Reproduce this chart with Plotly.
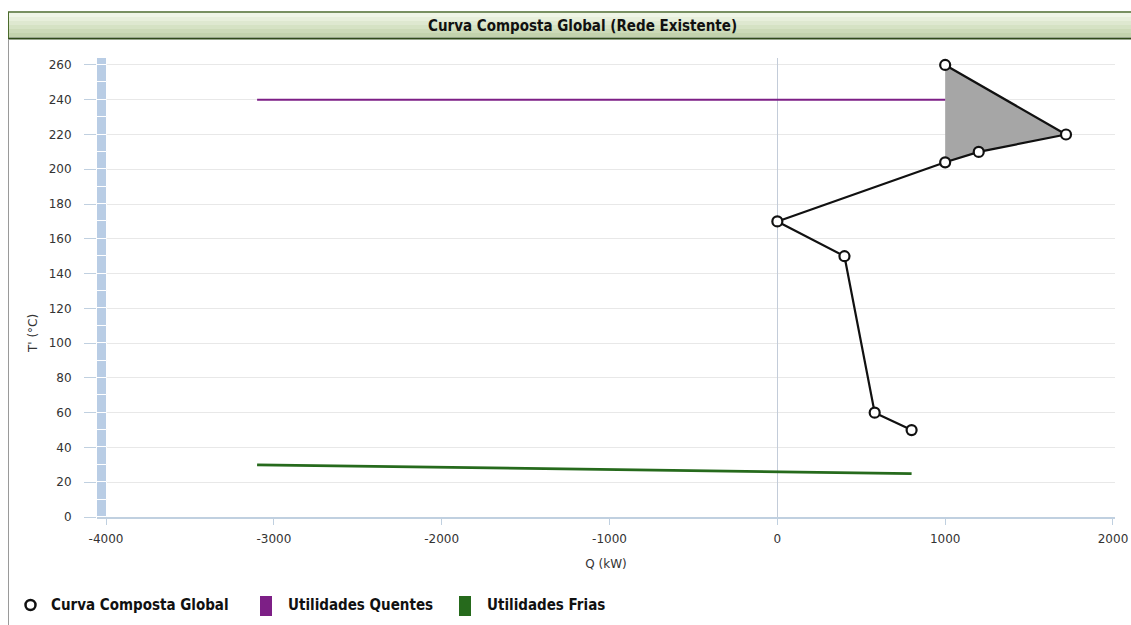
import plotly.graph_objects as go

# Grand composite curve (Q in kW, shifted temperature T' in °C)
gcc_q = [1000, 1720, 1200, 1000, 0, 400, 580, 800]
gcc_t = [260, 220, 210, 204, 170, 150, 60, 50]

# Heat pocket enclosed between the curve and Q = 1000 kW
pocket_q = [1000, 1720, 1200, 1000, 1000]
pocket_t = [260, 220, 210, 204, 260]

# Hot and cold utility levels
hot_q = [-3100, 1000]
hot_t = [240, 240]
cold_q = [-3100, 800]
cold_t = [30, 25]

# Temperature interval strip at the left edge
strip_q = -4024
strip_base = list(range(0, 270, 10))
strip_step = [10] * len(strip_base)

x_ticks = [-4000, -3000, -2000, -1000, 0, 1000, 2000]
y_ticks = list(range(0, 261, 20))

W, H = 1131, 625
ML, MR, MT, MB = 97, 16, 58, 108
PW, PH = W - ML - MR, H - MT - MB


def px(x):
    return (x - ML) / PW


def py(y):
    return (H - MB - y) / PH


fig = go.Figure()

fig.add_trace(go.Bar(
    x=[strip_q] * len(strip_base), y=strip_step, base=strip_base, width=60,
    marker=dict(color="#b9cde5", line=dict(color="white", width=1)),
    showlegend=False, hoverinfo="skip",
))

fig.add_trace(go.Scatter(
    x=pocket_q, y=pocket_t, mode="lines", fill="toself",
    fillcolor="#a6a6a6", line=dict(width=0), showlegend=False, hoverinfo="skip",
))

fig.add_trace(go.Scatter(
    x=hot_q, y=hot_t, mode="lines", name="Utilidades Quentes",
    line=dict(color="#7d1f86", width=2.2), showlegend=False,
))
fig.add_trace(go.Scatter(
    x=cold_q, y=cold_t, mode="lines", name="Utilidades Frias",
    line=dict(color="#266a1c", width=2.8), showlegend=False,
))

fig.add_trace(go.Scatter(
    x=gcc_q, y=gcc_t, mode="lines+markers", name="Curva Composta Global",
    line=dict(color="#111111", width=2.2),
    marker=dict(symbol="circle", size=10, color="white",
                line=dict(color="#111111", width=2.2)),
    showlegend=False,
))

shapes = []
# header bar with a vertical green gradient
bands = ["#eff5e6", "#e7efdb", "#dee8d0", "#d5e2c4", "#ccdab8", "#c3d3ad"]
top, bottom = 13, 37
step = (bottom - top) / len(bands)
for i, c in enumerate(bands):
    shapes.append(dict(type="rect", xref="paper", yref="paper", layer="below",
                       x0=px(8), x1=px(W + 2), y0=py(top + (i + 1) * step), y1=py(top + i * step),
                       fillcolor=c, line=dict(width=0)))
shapes.append(dict(type="line", xref="paper", yref="paper", x0=px(8), x1=px(W + 2),
                   y0=py(12), y1=py(12), line=dict(color="#4b6b2c", width=1.5)))
shapes.append(dict(type="line", xref="paper", yref="paper", x0=px(8), x1=px(W + 2),
                   y0=py(38.5), y1=py(38.5), line=dict(color="#2f4a19", width=2)))
shapes.append(dict(type="line", xref="paper", yref="paper", x0=px(8.5), x1=px(8.5),
                   y0=py(12), y1=py(38.5), line=dict(color="#4b6b2c", width=1)))
# panel border on the left
shapes.append(dict(type="line", xref="paper", yref="paper", x0=px(8.5), x1=px(8.5),
                   y0=py(39), y1=py(H + 2), line=dict(color="#9a9a9a", width=1)))

# legend swatches
shapes.append(dict(type="circle", xref="paper", yref="paper",
                   x0=px(25.5), x1=px(35.5), y0=py(610), y1=py(600),
                   fillcolor="white", line=dict(color="#111111", width=2.5)))
shapes.append(dict(type="rect", xref="paper", yref="paper",
                   x0=px(260), x1=px(272), y0=py(616), y1=py(596),
                   fillcolor="#7d1f86", line=dict(width=0)))
shapes.append(dict(type="rect", xref="paper", yref="paper",
                   x0=px(459), x1=px(471), y0=py(616), y1=py(596),
                   fillcolor="#266a1c", line=dict(width=0)))

cond = "DejaVu Sans Condensed, DejaVu Sans"
bold = dict(family=cond, size=15, color="#111111", weight="bold")
annotations = [
    dict(text="Curva Composta Global (Rede Existente)", xref="paper", yref="paper",
         x=px(582), y=py(25.5), showarrow=False, xanchor="center", yanchor="middle",
         font=dict(family=cond, size=15, color="#111111", weight="bold")),
    dict(text="T' (°C)", xref="paper", yref="paper", x=px(33), y=py(334),
         showarrow=False, xanchor="center", yanchor="middle", textangle=-90,
         font=dict(size=12, color="#333333")),
    dict(text="Curva Composta Global", xref="paper", yref="paper", x=px(49), y=py(605),
         showarrow=False, xanchor="left", yanchor="middle", font=bold),
    dict(text="Utilidades Quentes", xref="paper", yref="paper", x=px(286), y=py(605),
         showarrow=False, xanchor="left", yanchor="middle", font=bold),
    dict(text="Utilidades Frias", xref="paper", yref="paper", x=px(485), y=py(605),
         showarrow=False, xanchor="left", yanchor="middle", font=bold),
]

fig.update_layout(
    width=W, height=H,
    margin=dict(l=ML, r=MR, t=MT, b=MB, pad=0, autoexpand=False),
    paper_bgcolor="white", plot_bgcolor="white",
    barmode="overlay", bargap=0,
    font=dict(family="DejaVu Sans", size=12, color="#333333"),
    shapes=shapes, annotations=annotations,
    showlegend=False,
    xaxis=dict(
        automargin=False,
        range=[-4054, 2012], tickvals=x_ticks, ticktext=[str(v) for v in x_ticks],
        showgrid=False, zeroline=True, zerolinecolor="#c3ccd9", zerolinewidth=1,
        showline=True, linecolor="#c0d0e0", linewidth=1.5,
        ticks="outside", ticklen=6, tickcolor="#c0d0e0", ticklabelstandoff=4,
        tickfont=dict(size=12, color="#333333"),
        title=dict(text="Q (kW)", font=dict(size=12, color="#333333"), standoff=14),
    ),
    yaxis=dict(
        automargin=False,
        range=[0, 264], tickvals=y_ticks, ticktext=[str(v) for v in y_ticks],
        showgrid=True, gridcolor="#e8e8e8", gridwidth=1, zeroline=False,
        showline=False, ticks="outside", ticklen=12, tickcolor="#c0d0e0",
        ticklabelstandoff=10,
        tickfont=dict(size=12, color="#333333"),
    ),
)

fig.write_html("out.html")
